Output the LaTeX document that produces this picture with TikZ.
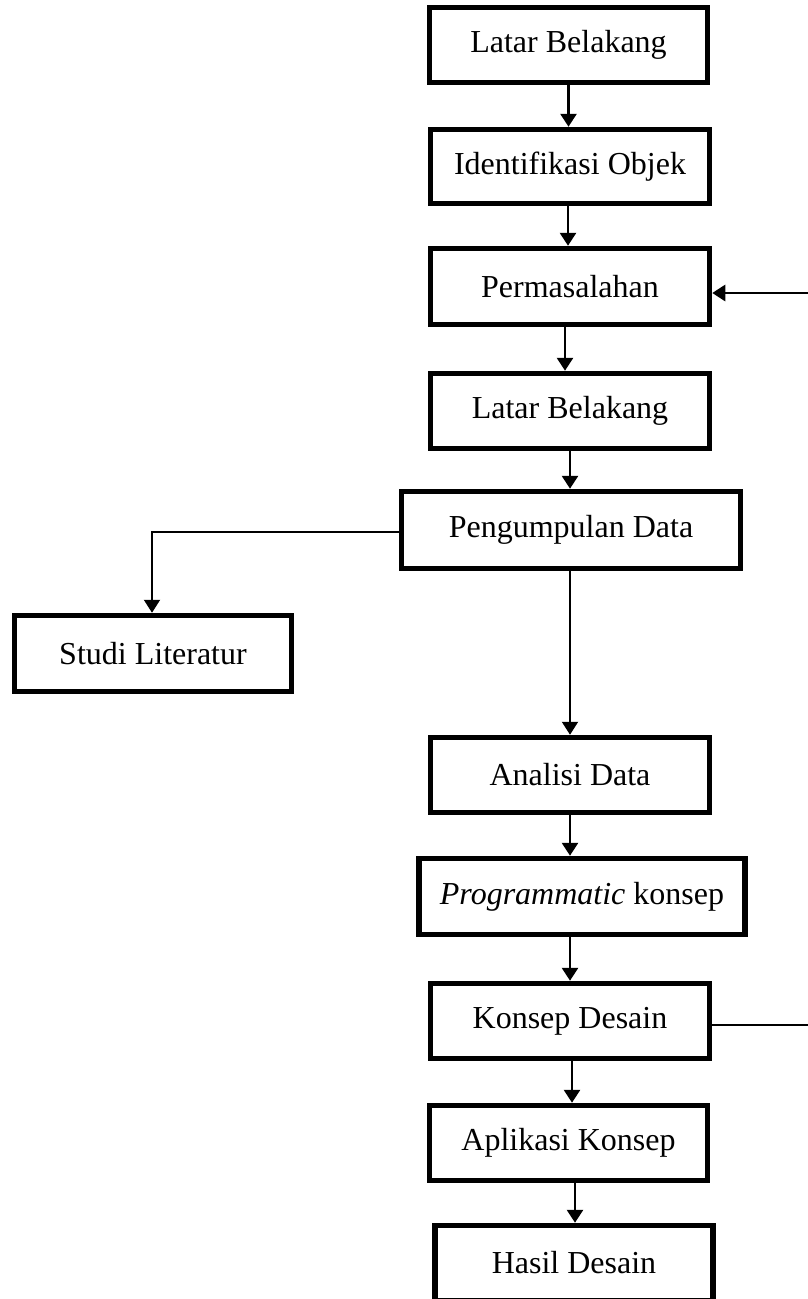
\documentclass[tikz,border=0pt]{standalone}
\usepackage{fontspec}
\setmainfont{Liberation Serif}
\usetikzlibrary{arrows.meta}
\begin{document}
\begin{tikzpicture}[x=1pt,y=-1pt,
  box/.style={draw=black,line width=5.5pt,fill=white,inner sep=0pt,
    font=\fontsize{32}{38}\selectfont},
  arr/.style={draw=black,line width=2.8pt,-{Triangle[width=16pt,length=13pt]}},
  thinarr/.style={draw=black,line width=2pt,-{Triangle[width=16pt,length=13pt]}},
  thinline/.style={draw=black,line width=2.4pt}]
\useasboundingbox (0,0) rectangle (808,1299);
\node[box,minimum width=278pt,minimum height=75pt] (b1) at (568.5,45) {Latar Belakang};
\node[box,minimum width=279pt,minimum height=74pt] (b2) at (570,166.5) {Identifikasi Objek};
\node[box,minimum width=279pt,minimum height=76pt] (b3) at (570,286.5) {Permasalahan};
\node[box,minimum width=279pt,minimum height=75pt] (b4) at (570,411) {Latar Belakang};
\node[box,minimum width=339pt,minimum height=77pt] (b5) at (571,530) {Pengumpulan Data};
\node[box,minimum width=277pt,minimum height=76pt] (studi) at (153,653.5) {Studi Literatur};
\node[box,minimum width=279pt,minimum height=75pt] (anal) at (570,775) {Analisi Data};
\node[box,minimum width=326pt,minimum height=76pt] (prog) at (582,896.5) {\textit{Programmatic} konsep};
\node[box,minimum width=279pt,minimum height=75pt] (kons) at (570,1021) {Konsep Desain};
\node[box,minimum width=278pt,minimum height=75pt] (apl) at (568.5,1143) {Aplikasi Konsep};
\node[box,minimum width=278pt,minimum height=75pt] (has) at (574,1263) {Hasil Desain};
\coordinate (rin) at (808,293);
\coordinate (rout) at (808,1025);
\coordinate (sx) at (152,532);
\draw[arr] (b1.south) -- (b1.south |- b2.north);
\draw[arr] ([xshift=-2pt]b2.south) -- ([xshift=-2pt]b2.south |- b3.north);
\draw[arr] ([xshift=-5pt]b3.south) -- ([xshift=-5pt]b3.south |- b4.north);
\draw[arr] (b4.south) -- (b4.south |- b5.north);
\draw[thinarr] ([xshift=-1pt]b5.south) -- ([xshift=-1pt]b5.south |- anal.north);
\draw[arr] (anal.south) -- (anal.south |- prog.north);
\draw[arr] (anal.south |- prog.south) -- (anal.south |- kons.north);
\draw[arr] ([xshift=2pt]kons.south) -- ([xshift=2pt]kons.south |- apl.north);
\draw[arr] ([xshift=6.5pt]apl.south) -- ([xshift=6.5pt]apl.south |- has.north);
\draw[arr] (rin) -- (rin -| b3.east);
\draw[thinline] (rout -| kons.east) -- (rout);
\draw[thinarr] (sx -| b5.west) -- (sx) -- (sx |- studi.north);
\end{tikzpicture}
\end{document}
